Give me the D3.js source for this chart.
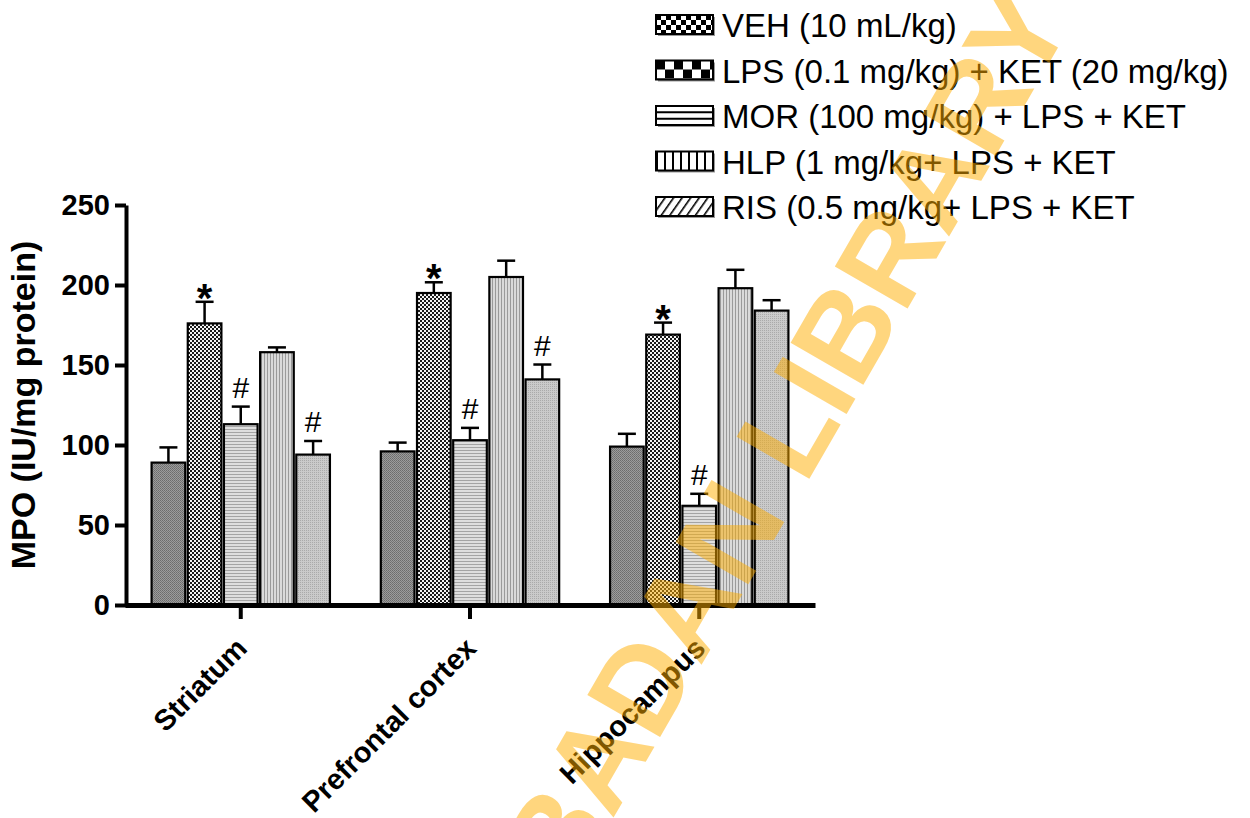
<!DOCTYPE html>
<meta charset="utf-8">
<script src="https://d3js.org/d3.v7.min.js"></script>
<style>
  body { margin: 0; background: #fff; }
  text { font-family: Arial, "Liberation Sans", sans-serif; }
</style>
<div id="my_viz"></div>
<script>

// brain regions on the x axis
var regions = ["Striatum", "Prefrontal cortex", "Hippocampus"];

// treatment groups (legend order)
var groups = ["VEH (10 mL/kg)",
              "LPS (0.1 mg/kg) + KET (20 mg/kg)",
              "MOR (100 mg/kg) + LPS + KET",
              "HLP (1 mg/kg+ LPS + KET",
              "RIS (0.5 mg/kg+ LPS + KET"];

// MPO means per region (Striatum, Prefrontal cortex, Hippocampus)
var vehMean = [89, 96, 99];
var lpsMean = [176, 195, 169];
var morMean = [113, 103, 62];
var hlpMean = [158, 205, 198];
var risMean = [94, 141, 184];

// error bars (SEM)
var vehErr = [9.5, 5.5, 8];
var lpsErr = [13.5, 6.7, 7.5];
var morErr = [11, 7.7, 7.5];
var hlpErr = [3, 10.2, 11.5];
var risErr = [8.5, 9.3, 6.5];

// significance marks
var vehSig = ["", "", ""];
var lpsSig = ["*", "*", "*"];
var morSig = ["#", "#", "#"];
var hlpSig = ["", "", ""];
var risSig = ["#", "#", ""];

var yTicks = [0, 50, 100, 150, 200, 250];

var means = [vehMean, lpsMean, morMean, hlpMean, risMean];
var errs = [vehErr, lpsErr, morErr, hlpErr, risErr];
var sigs = [vehSig, lpsSig, morSig, hlpSig, risSig];

var rows = [];
regions.forEach(function(r, ri) {
  groups.forEach(function(g, gi) {
    rows.push({region: r, group: g, gi: gi, value: means[gi][ri], err: errs[gi][ri], sig: sigs[gi][ri]});
  });
});

var svg = d3.select("#my_viz")
  .append("svg")
    .attr("width", 1250)
    .attr("height", 818);

var defs = svg.append("defs");

// fine textures used inside the bars
function pat(id, w, h) {
  return defs.append("pattern").attr("id", id)
    .attr("patternUnits", "userSpaceOnUse")
    .attr("width", w).attr("height", h);
}
var p;
p = pat("barVEH", 2, 2);
p.append("rect").attr("width", 2).attr("height", 2).attr("fill", "#9c9c9c");
p.append("rect").attr("width", 1).attr("height", 1).attr("fill", "#6c6c6c");
p.append("rect").attr("x", 1).attr("y", 1).attr("width", 1).attr("height", 1).attr("fill", "#767676");

p = pat("barLPS", 4, 4);
p.append("rect").attr("width", 4).attr("height", 4).attr("fill", "#f4f4f4");
p.append("rect").attr("width", 2).attr("height", 2).attr("fill", "#1a1a1a");
p.append("rect").attr("x", 2).attr("y", 2).attr("width", 2).attr("height", 2).attr("fill", "#1a1a1a");

p = pat("barMOR", 3, 3);
p.append("rect").attr("width", 3).attr("height", 3).attr("fill", "#dedede");
p.append("rect").attr("width", 3).attr("height", 1).attr("fill", "#a4a4a4");

p = pat("barHLP", 3, 3);
p.append("rect").attr("width", 3).attr("height", 3).attr("fill", "#dadada");
p.append("rect").attr("width", 1).attr("height", 3).attr("fill", "#9a9a9a");

p = pat("barRIS", 2, 2);
p.append("rect").attr("width", 2).attr("height", 2).attr("fill", "#cacaca");
p.append("rect").attr("width", 1).attr("height", 1).attr("fill", "#aaaaaa");

// coarser textures for the legend swatches
p = pat("keyVEH", 10, 10);
p.append("rect").attr("width", 10).attr("height", 10).attr("fill", "#fff");
p.append("rect").attr("width", 5).attr("height", 5).attr("fill", "#000");
p.append("rect").attr("x", 5).attr("y", 5).attr("width", 5).attr("height", 5).attr("fill", "#000");

p = pat("keyLPS", 18, 18);
p.append("rect").attr("width", 18).attr("height", 18).attr("fill", "#fff");
p.append("rect").attr("width", 9).attr("height", 9).attr("fill", "#000");
p.append("rect").attr("x", 9).attr("y", 9).attr("width", 9).attr("height", 9).attr("fill", "#000");

p = pat("keyHLP", 8, 8);
p.append("rect").attr("width", 8).attr("height", 8).attr("fill", "#fff");
p.append("rect").attr("width", 2).attr("height", 8).attr("fill", "#000");

p = pat("keyRIS", 7, 7).attr("patternTransform", "rotate(35)");
p.append("rect").attr("width", 7).attr("height", 7).attr("fill", "#fff");
p.append("rect").attr("width", 1.6).attr("height", 7).attr("fill", "#000");

var barFill = ["url(#barVEH)", "url(#barLPS)", "url(#barMOR)", "url(#barHLP)", "url(#barRIS)"];
var keyFill = ["url(#keyVEH)", "url(#keyLPS)", "#fff", "url(#keyHLP)", "url(#keyRIS)"];

// scales
var x0 = d3.scaleBand()
  .domain(regions)
  .range([125, 815])
  .paddingInner(0.222)
  .paddingOuter(0.116);

var x1 = d3.scaleBand()
  .domain(groups)
  .range([0, x0.bandwidth()])
  .paddingInner(0.07)
  .paddingOuter(0);

var y = d3.scaleLinear()
  .domain([0, 250])
  .range([605, 205]);

// bars
var bars = svg.append("g");
bars.selectAll("rect")
  .data(rows)
  .enter()
  .append("rect")
    .attr("x", function(d) { return x0(d.region) + x1(d.group); })
    .attr("y", function(d) { return y(d.value); })
    .attr("width", x1.bandwidth())
    .attr("height", function(d) { return y(0) - y(d.value); })
    .attr("fill", function(d) { return barFill[d.gi]; })
    .attr("stroke", "#000")
    .attr("stroke-width", 2.2);

// error bars (upper half only)
var eb = svg.append("g").attr("stroke", "#000").attr("stroke-width", 2.5);
eb.selectAll("line.v")
  .data(rows)
  .enter()
  .append("line")
    .attr("class", "v")
    .attr("x1", function(d) { return x0(d.region) + x1(d.group) + x1.bandwidth() / 2; })
    .attr("x2", function(d) { return x0(d.region) + x1(d.group) + x1.bandwidth() / 2; })
    .attr("y1", function(d) { return y(d.value); })
    .attr("y2", function(d) { return y(d.value + d.err); });
eb.selectAll("line.c")
  .data(rows)
  .enter()
  .append("line")
    .attr("class", "c")
    .attr("x1", function(d) { return x0(d.region) + x1(d.group) + x1.bandwidth() / 2 - 9; })
    .attr("x2", function(d) { return x0(d.region) + x1(d.group) + x1.bandwidth() / 2 + 9; })
    .attr("y1", function(d) { return y(d.value + d.err); })
    .attr("y2", function(d) { return y(d.value + d.err); });

// * and # marks
svg.append("g")
  .selectAll("text")
  .data(rows.filter(function(d) { return d.sig !== ""; }))
  .enter()
  .append("text")
    .attr("x", function(d) { return x0(d.region) + x1(d.group) + x1.bandwidth() / 2; })
    .attr("y", function(d) { return y(d.value + d.err) + (d.sig === "*" ? 10 : -9); })
    .attr("text-anchor", "middle")
    .style("font-size", function(d) { return d.sig === "*" ? "40px" : "30px"; })
    .style("font-weight", function(d) { return d.sig === "*" ? "bold" : "normal"; })
    .text(function(d) { return d.sig; });

// Y axis
var yAxis = svg.append("g")
  .attr("transform", "translate(126,0)")
  .call(d3.axisLeft(y).tickValues(yTicks).tickSize(11).tickSizeOuter(0).tickPadding(5));
yAxis.select(".domain").attr("stroke-width", 4);
yAxis.selectAll(".tick line").attr("stroke-width", 4);
yAxis.selectAll(".tick text")
  .style("font-size", "29px")
  .style("font-weight", "bold")
  .attr("fill", "#000");

// X axis
var xAxis = svg.append("g")
  .attr("transform", "translate(0,605)")
  .call(d3.axisBottom(x0).tickSize(14).tickSizeOuter(0).tickFormat(""));
xAxis.select(".domain").attr("stroke-width", 5);
xAxis.selectAll(".tick line").attr("stroke-width", 4);

svg.append("g")
  .selectAll("text")
  .data(regions)
  .enter()
  .append("text")
    .attr("transform", function(d) { return "translate(" + (x0(d) + x0.bandwidth() / 2 + 8) + ",650) rotate(-45)"; })
    .attr("text-anchor", "end")
    .style("font-size", "29px")
    .style("font-weight", "bold")
    .text(function(d) { return d; });

// Y axis label
svg.append("text")
  .attr("transform", "translate(35,405) rotate(-90)")
  .attr("text-anchor", "middle")
  .style("font-size", "34px")
  .style("font-weight", "bold")
  .text("MPO (IU/mg protein)");

// Legend
var key = svg.append("g").attr("transform", "translate(656,15)");
var keyRow = key.selectAll("g")
  .data(groups)
  .enter()
  .append("g")
    .attr("transform", function(d, i) { return "translate(0," + (i * 45.5) + ")"; });
keyRow.append("rect")
  .attr("x", 2).attr("y", 2)
  .attr("width", 57).attr("height", 19)
  .attr("fill", "#999");
keyRow.append("rect")
  .attr("width", 57).attr("height", 19)
  .attr("fill", function(d, i) { return keyFill[i]; })
  .attr("stroke", "#000")
  .attr("stroke-width", 2);
keyRow.filter(function(d, i) { return i === 2; })
  .selectAll("line")
  .data([6.3, 12.7])
  .enter()
  .append("line")
    .attr("x1", 0).attr("x2", 57)
    .attr("y1", function(d) { return d; })
    .attr("y2", function(d) { return d; })
    .attr("stroke", "#000")
    .attr("stroke-width", 2);
keyRow.append("text")
  .attr("x", 66)
  .attr("y", 22)
  .style("font-size", "33px")
  .text(function(d) { return d; });

// watermark
svg.append("text")
  .attr("transform", "translate(1074,20) rotate(-60)")
  .attr("text-anchor", "end")
  .style("font-size", "122px")
  .style("font-weight", "bold")
  .attr("fill", "#ffae00")
  .attr("opacity", 0.5)
  .text("UNIVERSITY OF IBADAN LIBRARY");

</script>
